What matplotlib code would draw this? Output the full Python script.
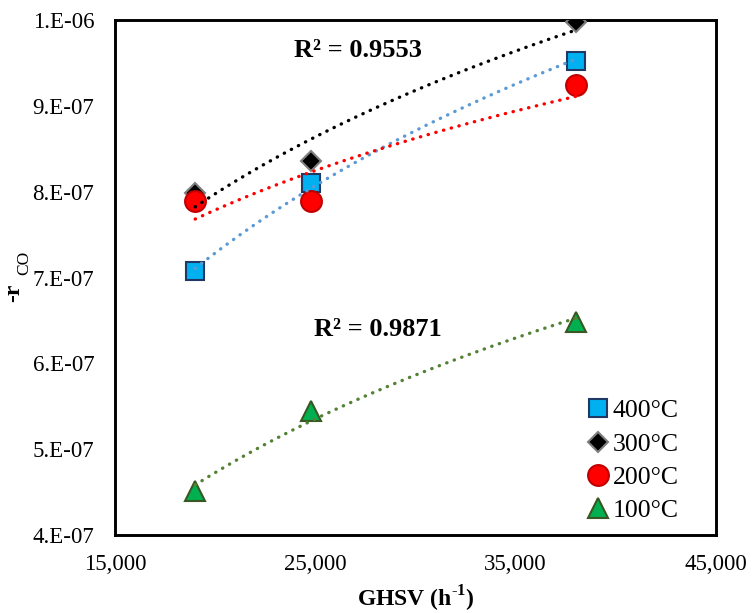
import numpy as np
import matplotlib.pyplot as plt
from matplotlib.ticker import FuncFormatter

plt.rcParams['font.family'] = 'Liberation Serif'
plt.rcParams['mathtext.fontset'] = 'custom'
plt.rcParams['mathtext.rm'] = 'Liberation Serif'
plt.rcParams['mathtext.bf'] = 'Liberation Serif:bold'

# GHSV (h-1)
ghsv = [19000, 24800, 38000]

# -r_CO values per temperature
r_400 = [7.07e-7, 8.10e-7, 9.52e-7]
r_300 = [7.98e-7, 8.36e-7, 9.98e-7]
r_200 = [7.89e-7, 7.89e-7, 9.24e-7]
r_100 = [4.51e-7, 5.45e-7, 6.48e-7]

labels = ['400°C', '300°C', '200°C', '100°C']

fig = plt.figure(figsize=(7.52, 6.13), dpi=100)
ax = fig.add_axes([0.153, 0.1272, 0.799, 0.8402])

styles = [
    (r_400, 's', '#00B0F0', '#203864', 13.5, '#5B9BD5'),
    (r_300, 'D', '#000000', '#7F7F7F', 10.5, '#000000'),
    (r_200, 'o', '#FF0000', '#C00000', 15, '#FF0000'),
    (r_100, '^', '#00B050', '#385723', 14, '#548235'),
]

x = np.array(ghsv, dtype=float)
xf = np.linspace(x.min(), x.max(), 200)
for (vals, mk, fc, ec, ms, lc), lab in zip(styles, labels):
    ax.plot(ghsv, vals, linestyle='none', marker=mk, markersize=ms,
            markerfacecolor=fc, markeredgecolor=ec, markeredgewidth=1.5,
            label=lab, zorder=3)
    # logarithmic trendline
    a, b = np.polyfit(np.log(x), vals, 1)
    ax.plot(xf, a * np.log(xf) + b, color=lc, linewidth=2.4,
            linestyle=(0, (0.1, 2.3)), dash_capstyle='round', zorder=4)

ax.set_xlim(15000, 45000)
ax.set_ylim(4e-7, 1e-6)
ax.set_xticks([15000, 25000, 35000, 45000])
ax.set_yticks([4e-7, 5e-7, 6e-7, 7e-7, 8e-7, 9e-7, 1e-6])
ax.xaxis.set_major_formatter(FuncFormatter(lambda v, p: f'{v:,.0f}'))
ax.yaxis.set_major_formatter(FuncFormatter(
    lambda v, p: '1.E-06' if abs(v - 1e-6) < 1e-9 else f'{round(v * 1e7):d}.E-07'))
ax.tick_params(length=0, labelsize=16.5)
ax.tick_params(axis='y', pad=15)
ax.tick_params(axis='x', pad=14)
for s in ax.spines.values():
    s.set_linewidth(2.1)
    s.set_color('black')

ax.set_xlabel(r'GHSV (h$^{\mathbf{\text{-}1}}$)', fontsize=17, fontweight='bold',
              labelpad=6)

# y label: bold "-r" with subscript "CO"
fig.text(0.0185, 0.522, '-r', fontsize=17, fontweight='bold', rotation=90,
         ha='center', va='center')
fig.text(0.0320, 0.571, 'CO', fontsize=12.5, rotation=90,
         ha='center', va='center')

ax.text(27130, 9.65e-7, 'R² = 0.9553', fontsize=19, fontweight='bold',
        ha='center', va='center')
ax.text(28130, 6.39e-7, 'R² = 0.9871', fontsize=19, fontweight='bold',
        ha='center', va='center')

leg = ax.legend(loc='lower right', bbox_to_anchor=(0.985, -0.03), frameon=False,
                fontsize=18.5, handletextpad=0.05, labelspacing=0.4,
                handlelength=1.0, borderpad=0.6)

fig.savefig('out.png', dpi=100)
